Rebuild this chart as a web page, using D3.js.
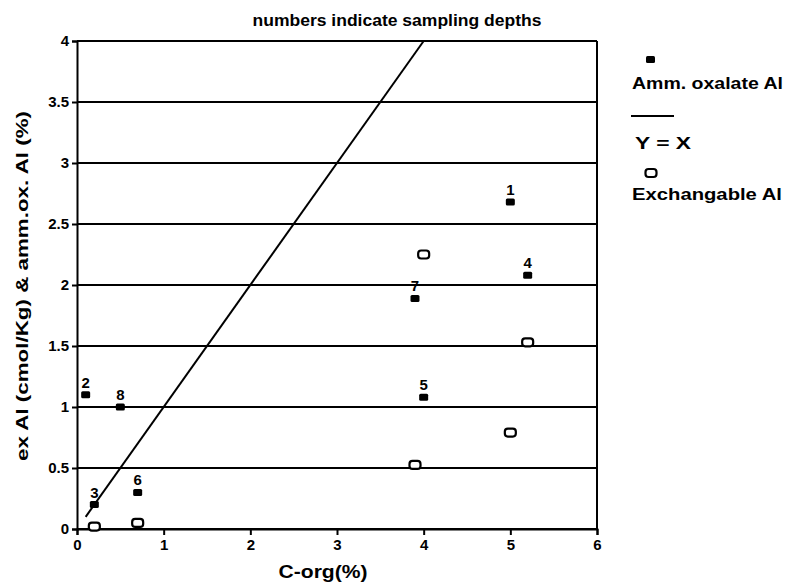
<!DOCTYPE html>
<html>
<head>
<meta charset="utf-8">
<script src="https://cdn.jsdelivr.net/npm/d3@7"></script>
<style>
  body { margin: 0; background: #fff; }
  text { font-family: "Liberation Sans", Arial, Helvetica, sans-serif; font-weight: bold; fill: #000; }
</style>
</head>
<body>
<div id="chart"></div>
<script>
// ammonium oxalate Al, labelled with sampling depth
const oxDepth = [1, 2, 3, 4, 5, 6, 7, 8];
const oxC     = [5.0, 0.1, 0.2, 5.2, 4.0, 0.7, 3.9, 0.5];
const oxAl    = [2.68, 1.10, 0.20, 2.08, 1.08, 0.30, 1.89, 1.00];

// exchangeable Al
const exC  = [0.2, 0.7, 3.9, 4.0, 5.2, 5.0];
const exAl = [0.02, 0.05, 0.525, 2.25, 1.53, 0.79];

// Y = X reference line
const refX = [0.1, 4];

const xTicks = [0, 1, 2, 3, 4, 5, 6];
const yTicks = [0, 0.5, 1, 1.5, 2, 2.5, 3, 3.5, 4];

const W = 788, H = 583;
const margin = {top: 41, right: 191, bottom: 54, left: 77},
    width = W - margin.left - margin.right,
    height = H - margin.top - margin.bottom;

const svg = d3.select("#chart")
  .append("svg")
    .attr("width", W)
    .attr("height", H);

const g = svg.append("g")
    .attr("transform", `translate(${margin.left}, ${margin.top})`);

const x = d3.scaleLinear().domain([0, 6]).range([0, width]);
const y = d3.scaleLinear().domain([0, 4]).range([height, 0]);

// horizontal grid lines
g.append("g")
  .selectAll("line")
  .data(yTicks)
  .join("line")
    .attr("x1", 0)
    .attr("x2", width)
    .attr("y1", d => y(d))
    .attr("y2", d => y(d))
    .attr("stroke", "#000")
    .attr("stroke-width", 2);

// right border
g.append("line")
  .attr("x1", width).attr("x2", width)
  .attr("y1", 0).attr("y2", height)
  .attr("stroke", "#000").attr("stroke-width", 2);

const xAxis = g.append("g")
  .attr("transform", `translate(0, ${height})`)
  .call(d3.axisBottom(x).tickValues(xTicks).tickFormat(d3.format("d")).tickSize(6).tickPadding(4));
const yAxis = g.append("g")
  .call(d3.axisLeft(y).tickValues(yTicks).tickFormat(d => String(d)).tickSize(5).tickPadding(3));

[xAxis, yAxis].forEach(a => {
  a.select(".domain").attr("stroke", "#000").attr("stroke-width", 2);
  a.selectAll(".tick line").attr("stroke", "#000").attr("stroke-width", 2);
  a.selectAll(".tick text")
    .style("font-family", '"Liberation Sans", Arial, sans-serif')
    .style("font-weight", "bold")
    .style("font-size", "15px")
    .attr("fill", "#000");
});

// Y = X line
g.append("path")
  .datum(refX)
  .attr("fill", "none")
  .attr("stroke", "#000")
  .attr("stroke-width", 2)
  .attr("d", d3.line().x(d => x(d)).y(d => y(d)));

// exchangeable Al, open markers
g.append("g")
  .selectAll("rect")
  .data(exC.map((c, i) => ({c: c, v: exAl[i]})))
  .join("rect")
    .attr("x", d => x(d.c) - 5.5)
    .attr("y", d => y(d.v) - 4)
    .attr("width", 11)
    .attr("height", 8)
    .attr("rx", 3)
    .attr("fill", "#fff")
    .attr("stroke", "#000")
    .attr("stroke-width", 2.2);

// amm. oxalate Al, filled markers with depth numbers
const ox = oxC.map((c, i) => ({c: c, v: oxAl[i], depth: oxDepth[i]}));
g.append("g")
  .selectAll("rect")
  .data(ox)
  .join("rect")
    .attr("x", d => x(d.c) - 4.5)
    .attr("y", d => y(d.v) - 3.5)
    .attr("width", 9)
    .attr("height", 7)
    .attr("rx", 1.5)
    .attr("fill", "#000");

g.append("g")
  .selectAll("text")
  .data(ox)
  .join("text")
    .attr("x", d => x(d.c))
    .attr("y", d => y(d.v) - 7)
    .attr("text-anchor", "middle")
    .style("font-size", "15px")
    .text(d => d.depth);

// title and axis labels
svg.append("text")
  .attr("x", 397).attr("y", 26)
  .attr("text-anchor", "middle")
  .attr("textLength", 289).attr("lengthAdjust", "spacingAndGlyphs")
  .style("font-size", "17px")
  .text("numbers indicate sampling depths");

svg.append("text")
  .attr("x", 323).attr("y", 578)
  .attr("text-anchor", "middle")
  .attr("textLength", 89).attr("lengthAdjust", "spacingAndGlyphs")
  .style("font-size", "19px")
  .text("C-org(%)");

svg.append("text")
  .attr("transform", "translate(28, 286) rotate(-90)")
  .attr("text-anchor", "middle")
  .attr("textLength", 350).attr("lengthAdjust", "spacingAndGlyphs")
  .style("font-size", "17px")
  .text("ex Al (cmol/Kg) & amm.ox. Al (%)");

// legend
const lg = svg.append("g");
lg.append("rect")
  .attr("x", 646).attr("y", 56).attr("width", 9).attr("height", 7).attr("rx", 1.5)
  .attr("fill", "#000");
lg.append("text")
  .attr("x", 632).attr("y", 89)
  .attr("textLength", 151).attr("lengthAdjust", "spacingAndGlyphs")
  .style("font-size", "17px")
  .text("Amm. oxalate Al");
lg.append("line")
  .attr("x1", 631).attr("x2", 674).attr("y1", 116).attr("y2", 116)
  .attr("stroke", "#000").attr("stroke-width", 2);
lg.append("text")
  .attr("x", 635).attr("y", 149)
  .attr("textLength", 56).attr("lengthAdjust", "spacingAndGlyphs")
  .style("font-size", "17px")
  .text("Y = X");
lg.append("rect")
  .attr("x", 645.5).attr("y", 169).attr("width", 11).attr("height", 8).attr("rx", 3)
  .attr("fill", "#fff").attr("stroke", "#000").attr("stroke-width", 2.2);
lg.append("text")
  .attr("x", 632).attr("y", 200)
  .attr("textLength", 150).attr("lengthAdjust", "spacingAndGlyphs")
  .style("font-size", "17px")
  .text("Exchangable Al");
</script>
</body>
</html>
